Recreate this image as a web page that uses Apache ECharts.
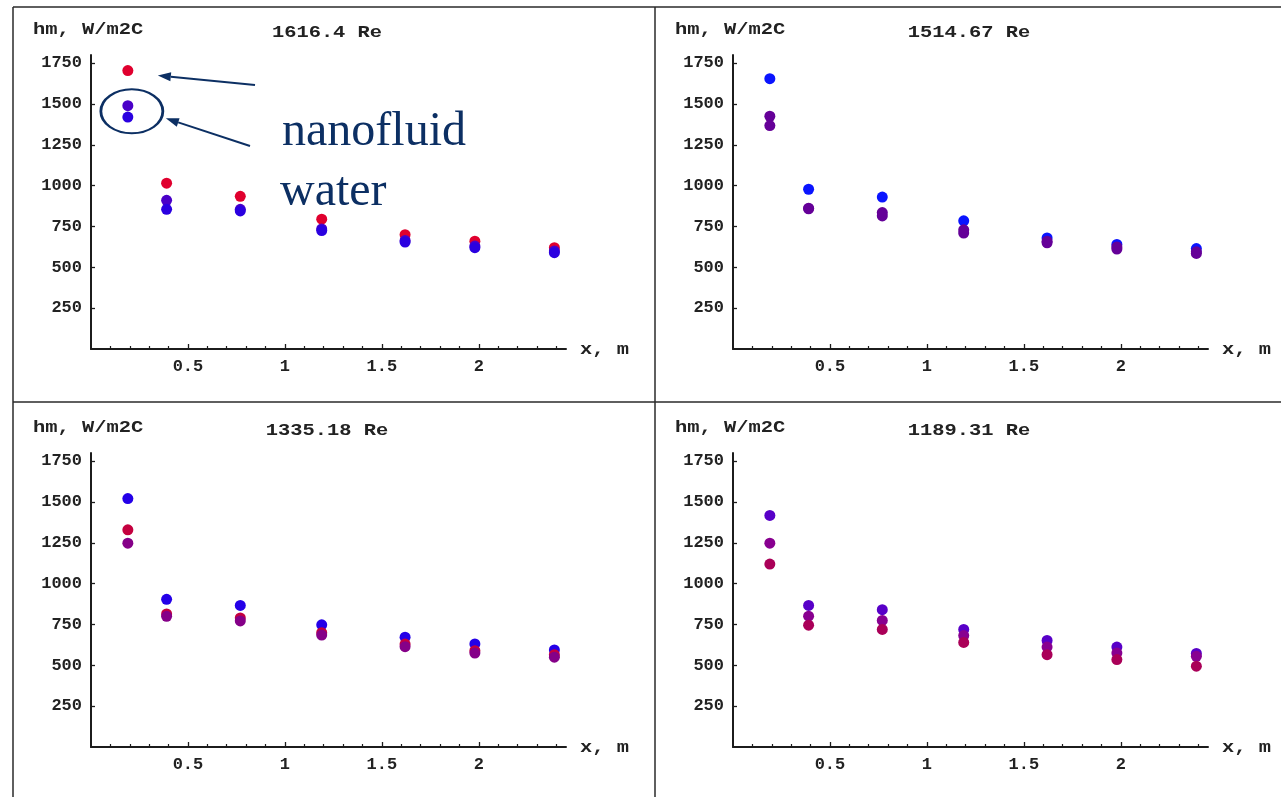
<!DOCTYPE html>
<html>
<head>
<meta charset="utf-8">
<title>hm vs x</title>
<script src="https://cdn.jsdelivr.net/npm/echarts@6/dist/echarts.min.js"></script>
<style>
  html, body { margin: 0; padding: 0; background: #ffffff; }
  #chart { width: 1281px; height: 797px; }
</style>
</head>
<body>
<div id="chart"></div>
<script>
// Measurement stations along the tube, m
const xPositions = [0.19, 0.39, 0.77, 1.19, 1.62, 1.98, 2.39];

// Tick values
const yTickValues = [250, 500, 750, 1000, 1250, 1500, 1750];
const xTickValues = [0.5, 1, 1.5, 2];
const xMinorTickValues = [0.1, 0.2, 0.3, 0.4, 0.6, 0.7, 0.8, 0.9, 1.1, 1.2, 1.3, 1.4,
                          1.6, 1.7, 1.8, 1.9, 2.1, 2.2, 2.3, 2.4];

// Panel headings
const panelTitles = ['1616.4 Re', '1514.67 Re', '1335.18 Re', '1189.31 Re'];
const yAxisName = 'hm, W/m2C';
const xAxisName = 'x, m';

// hm, W/m2C — Re 1616.4
const re1616Nanofluid = [1705, 1015, 935, 795, 700, 660, 620];
const re1616WaterA    = [1490, 910, 855, 735, 665, 630, 600];
const re1616WaterB    = [1420, 855, 845, 725, 655, 620, 590];

// hm, W/m2C — Re 1514.67
const re1514A = [1655, 978, 930, 785, 680, 640, 615];
const re1514B = [1425, 862, 835, 730, 660, 625, 595];
const re1514C = [1368, 858, 815, 710, 650, 612, 585];

// hm, W/m2C — Re 1335.18
const re1335A = [1521, 904, 867, 748, 672, 631, 594];
const re1335B = [1330, 815, 790, 700, 630, 590, 565];
const re1335C = [1248, 800, 772, 685, 614, 575, 550];

// hm, W/m2C — Re 1189.31
const re1189A = [1418, 867, 841, 720, 652, 612, 573];
const re1189B = [1248, 801, 775, 682, 612, 575, 555];
const re1189C = [1120, 746, 720, 640, 565, 535, 495];

const panelSeries = [
  [re1616Nanofluid, re1616WaterA, re1616WaterB],
  [re1514A, re1514B, re1514C],
  [re1335A, re1335B, re1335C],
  [re1189A, re1189B, re1189C]
];
const panelColors = [
  ['#e0002e', '#4a00c8', '#2a00e0'],
  ['#0a14ff', '#650098', '#650098'],
  ['#2400e8', '#c4003f', '#850088'],
  ['#5800c8', '#880090', '#aa0058']
];

// Layout
const gridW = 475, gridH = 294;
const panelOrigins = [[91, 55], [733, 55], [91, 453], [733, 453]];
const axisColor = '#1c1c1c';
const monoFont = '"Liberation Mono", "DejaVu Sans Mono", monospace';
const navy = '#0c2f63';
const plainNumber = v => String(v);

const chart = echarts.init(document.getElementById('chart'), null, { renderer: 'canvas' });

const grids = [], xAxes = [], yAxes = [], series = [];
panelOrigins.forEach(([left, top], i) => {
  grids.push({ left: left, top: top, width: gridW, height: gridH, containLabel: false });
  // main x axis: line, major ticks and labels
  xAxes.push({
    type: 'value', gridIndex: i, min: 0, max: 2.45, position: 'bottom',
    axisLine: { show: true, onZero: false, lineStyle: { color: axisColor, width: 2 } },
    axisTick: { show: true, inside: true, length: 5, customValues: xTickValues,
                lineStyle: { color: axisColor, width: 1.3 } },
    axisLabel: { show: true, customValues: xTickValues, margin: 9, formatter: plainNumber,
                 color: '#222', fontFamily: monoFont, fontWeight: 'bold', fontSize: 17 },
    splitLine: { show: false }
  });
  // minor ticks every 0.1
  xAxes.push({
    type: 'value', gridIndex: i, min: 0, max: 2.45, position: 'bottom',
    axisLine: { show: false, onZero: false },
    axisTick: { show: true, inside: true, length: 3, customValues: xMinorTickValues,
                lineStyle: { color: axisColor, width: 1.2 } },
    axisLabel: { show: false },
    splitLine: { show: false }
  });
  yAxes.push({
    type: 'value', gridIndex: i, min: 0, max: 1800, position: 'left',
    axisLine: { show: true, onZero: false, lineStyle: { color: axisColor, width: 2 } },
    axisTick: { show: true, inside: true, length: 4, customValues: yTickValues,
                lineStyle: { color: axisColor, width: 1.3 } },
    axisLabel: { show: true, customValues: yTickValues, margin: 9, formatter: plainNumber,
                 color: '#222', fontFamily: monoFont, fontWeight: 'bold', fontSize: 17 },
    splitLine: { show: false }
  });
  panelSeries[i].forEach((values, k) => {
    series.push({
      type: 'scatter',
      xAxisIndex: 2 * i,
      yAxisIndex: i,
      symbol: 'circle',
      symbolSize: 11,
      itemStyle: { color: panelColors[i][k], opacity: 1 },
      emphasis: { disabled: true },
      data: xPositions.map((x, j) => [x, values[j]]),
      z: 3 + k
    });
  });
});

// Panel frame lines and text
const graphics = [];
const frameLine = (x1, y1, x2, y2) => ({
  type: 'line', silent: true,
  shape: { x1, y1, x2, y2 },
  style: { stroke: '#2a2a2a', lineWidth: 1.5 }
});
graphics.push(frameLine(13, 7, 1281, 7));
graphics.push(frameLine(13, 7, 13, 797));
graphics.push(frameLine(655, 7, 655, 797));
graphics.push(frameLine(13, 402, 1281, 402));

const monoText = (x, y, text, align) => ({
  type: 'text', silent: true, x: x, y: y, scaleX: 1.2,
  style: { text: text, x: 0, y: 0, align: align, verticalAlign: 'middle',
           fill: '#222', font: 'bold 17px ' + monoFont }
});
panelOrigins.forEach(([left, top], i) => {
  graphics.push(monoText(left - 58, top - 25, yAxisName, 'left'));
  graphics.push(monoText(left + 236, top - 22, panelTitles[i], 'center'));
  graphics.push(monoText(left + 489, top + gridH + 1, xAxisName, 'left'));
});

chart.setOption({
  animation: false,
  backgroundColor: '#ffffff',
  grid: grids,
  xAxis: xAxes,
  yAxis: yAxes,
  series: series,
  graphic: graphics
});

// Callouts on the Re 1616.4 panel
const finder = { xAxisIndex: 0, yAxisIndex: 0 };
const redPt = chart.convertToPixel(finder, [xPositions[0], re1616Nanofluid[0]]);
const waterMid = chart.convertToPixel(finder, [xPositions[0], (re1616WaterA[0] + re1616WaterB[0]) / 2]);

const ellipseCx = waterMid[0] + 4, ellipseCy = waterMid[1];
const rx = 31, ry = 22;

function arrow(tail, tip) {
  const dx = tip[0] - tail[0], dy = tip[1] - tail[1];
  const len = Math.hypot(dx, dy);
  const ux = dx / len, uy = dy / len;
  const headL = 13, headW = 9;
  const bx = tip[0] - ux * headL, by = tip[1] - uy * headL;
  const nx = -uy, ny = ux;
  return [
    { type: 'line', silent: true,
      shape: { x1: tail[0], y1: tail[1], x2: bx, y2: by },
      style: { stroke: navy, lineWidth: 2 } },
    { type: 'polygon', silent: true,
      shape: { points: [tip, [bx + nx * headW / 2, by + ny * headW / 2], [bx - nx * headW / 2, by - ny * headW / 2]] },
      style: { fill: navy } }
  ];
}

const callouts = [
  { type: 'circle', silent: true, x: ellipseCx, y: ellipseCy, scaleX: rx / ry,
    shape: { cx: 0, cy: 0, r: ry },
    style: { fill: 'none', stroke: navy, lineWidth: 2, strokeNoScale: true } },
  ...arrow([255, 85], [redPt[0] + 30, redPt[1] + 5]),
  ...arrow([250, 146], [ellipseCx + rx + 3, ellipseCy + 7]),
  { type: 'text', silent: true, x: 282, y: 108,
    style: { text: 'nanofluid', x: 0, y: 0, align: 'left', verticalAlign: 'alphabetic',
             fill: navy, font: '48px "Liberation Serif", "DejaVu Serif", serif' } },
  { type: 'text', silent: true, x: 280, y: 168,
    style: { text: 'water', x: 0, y: 0, align: 'left', verticalAlign: 'alphabetic',
             fill: navy, font: '48px "Liberation Serif", "DejaVu Serif", serif' } }
];

chart.setOption({ graphic: graphics.concat(callouts) });
</script>
</body>
</html>
